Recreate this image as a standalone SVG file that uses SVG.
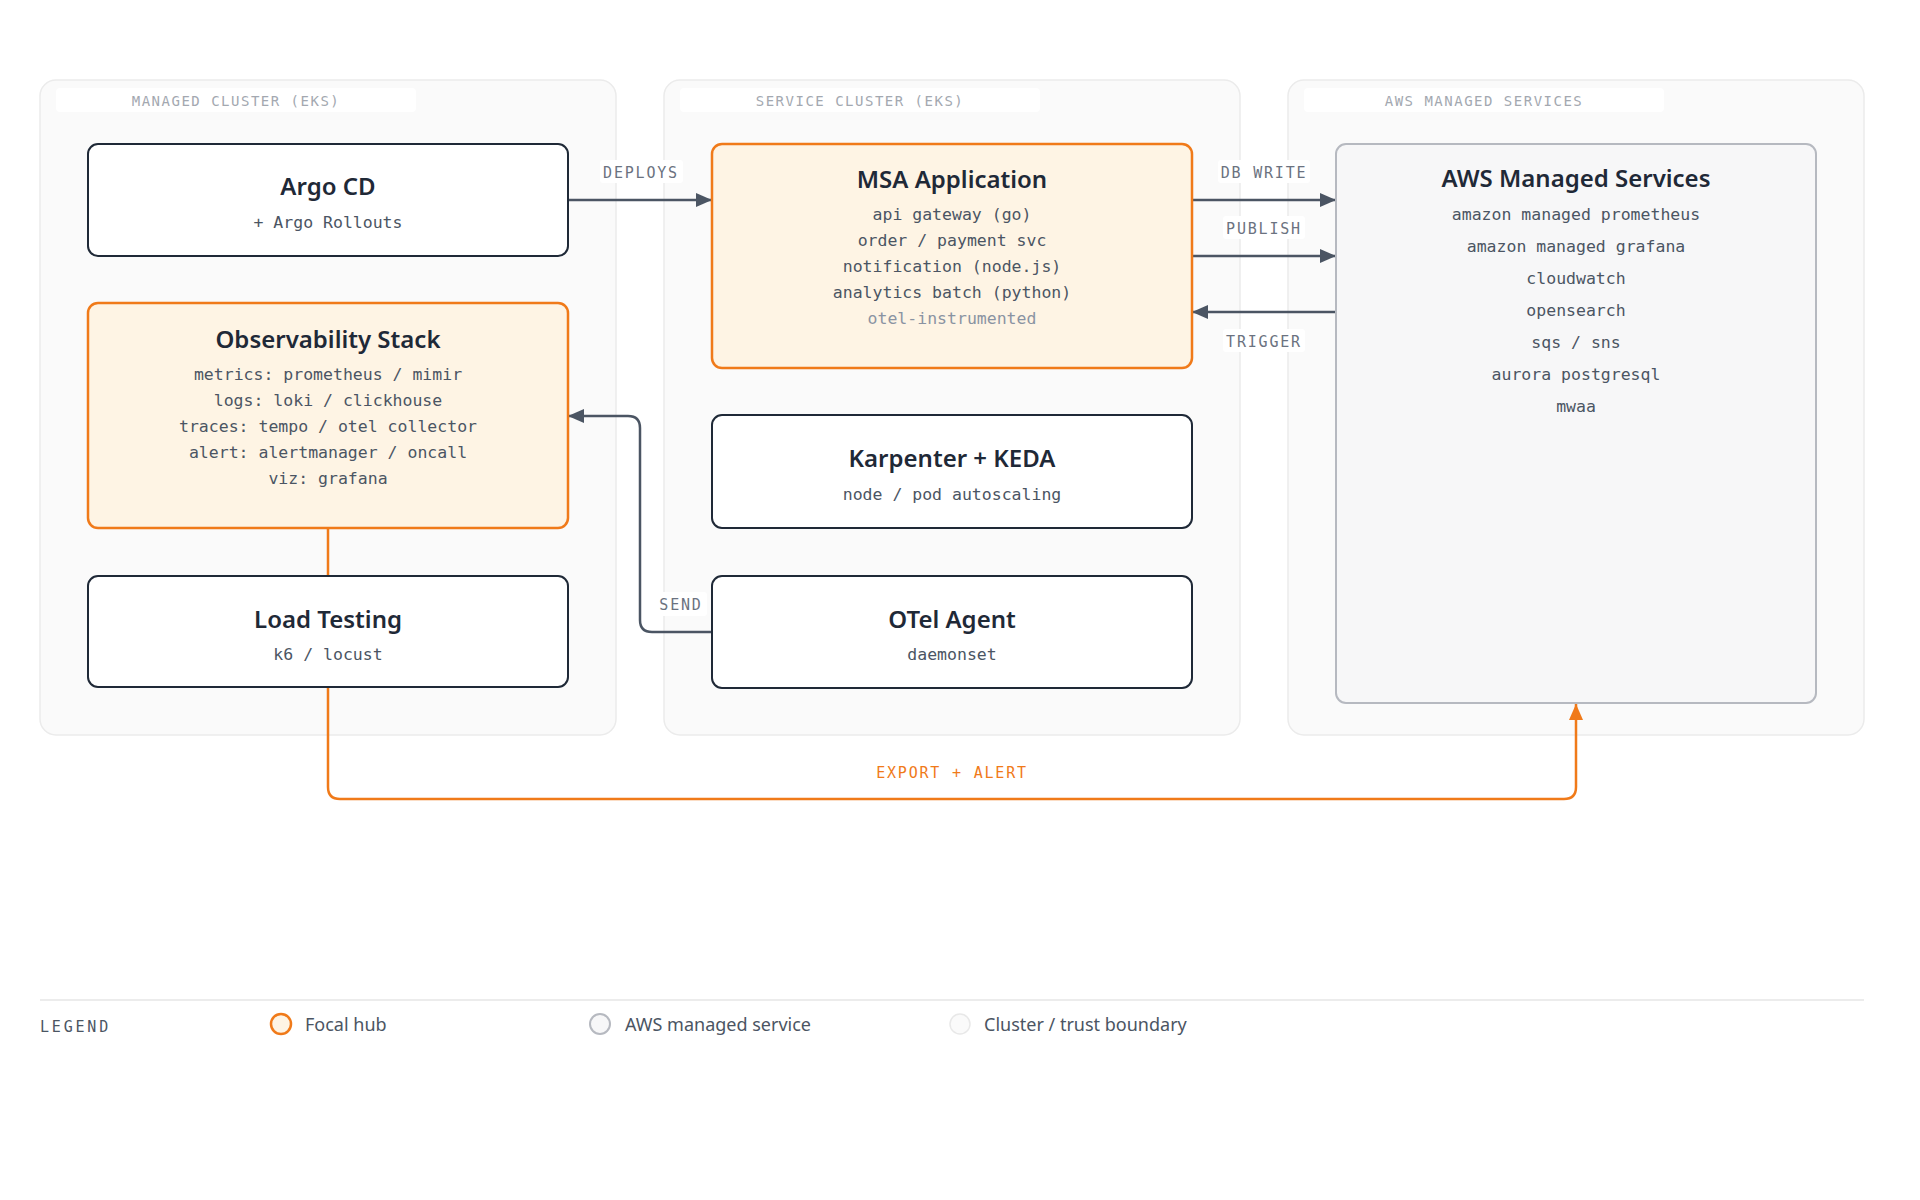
<svg xmlns="http://www.w3.org/2000/svg" width="1920" height="1200" viewBox="0 0 1920 1200">
  <defs>
    <style>
      .cluster { fill: #fafafa; stroke: #ebebeb; stroke-width: 1.5; }
      .clabel-bg { fill: #ffffff; }
      .clabel { font-family: "DejaVu Sans Mono", "Liberation Mono", monospace; font-size: 14px; letter-spacing: 1.5px; fill: #a3a8b0; text-anchor: middle; }
      .node { fill: #ffffff; stroke: #1f2937; stroke-width: 2; }
      .focal { fill: #fef4e4; stroke: #f07a19; stroke-width: 2.5; }
      .aws { fill: #f7f7f8; stroke: #b6b9c0; stroke-width: 2; }
      .title { font-family: "Noto Sans", "Open Sans", sans-serif; font-weight: 600; font-size: 24px; fill: #1f2937; text-anchor: middle; }
      .sub { font-family: "DejaVu Sans Mono", "Liberation Mono", monospace; font-size: 16.5px; fill: #4b5563; text-anchor: middle; }
      .muted { fill: #8a93a2; }
      .edge { fill: none; stroke: #4b5563; stroke-width: 2.5; }
      .edge-o { fill: none; stroke: #f07a19; stroke-width: 2.5; }
      .elabel-bg { fill: #ffffff; }
      .elabel { font-family: "DejaVu Sans Mono", "Liberation Mono", monospace; font-size: 15px; letter-spacing: 1.8px; fill: #6b7280; text-anchor: middle; }
      .elabel-o { fill: #f07a19; }
      .legend-title { font-family: "DejaVu Sans Mono", "Liberation Mono", monospace; font-size: 15px; letter-spacing: 2.8px; fill: #4b5563; }
      .legend-text { font-family: "Noto Sans", "Open Sans", sans-serif; font-size: 18px; fill: #4b5563; }
    </style>
    <marker id="arr" markerUnits="userSpaceOnUse" markerWidth="16" markerHeight="14" refX="16" refY="7" orient="auto">
      <path d="M0,0 L16,7 L0,14 Z" fill="#4b5563"/>
    </marker>
    <marker id="arr-o" markerUnits="userSpaceOnUse" markerWidth="16" markerHeight="14" refX="16" refY="7" orient="auto">
      <path d="M0,0 L16,7 L0,14 Z" fill="#f07a19"/>
    </marker>
  </defs>

  <rect x="0" y="0" width="1920" height="1200" fill="#ffffff"/>

  <!-- Clusters -->
  <g id="cluster-managed">
    <rect class="cluster" x="40" y="80" width="576" height="655" rx="16"/>
    <rect class="clabel-bg" x="56" y="88" width="360" height="24" rx="4"/>
    <text class="clabel" x="236" y="106">MANAGED CLUSTER (EKS)</text>
  </g>
  <g id="cluster-service">
    <rect class="cluster" x="664" y="80" width="576" height="655" rx="16"/>
    <rect class="clabel-bg" x="680" y="88" width="360" height="24" rx="4"/>
    <text class="clabel" x="860" y="106">SERVICE CLUSTER (EKS)</text>
  </g>
  <g id="cluster-aws">
    <rect class="cluster" x="1288" y="80" width="576" height="655" rx="16"/>
    <rect class="clabel-bg" x="1304" y="88" width="360" height="24" rx="4"/>
    <text class="clabel" x="1484" y="106">AWS MANAGED SERVICES</text>
  </g>

  <!-- Connectors -->
  <g id="connectors">
    <path class="edge-o" d="M328,528 V787 Q328,799 340,799 H1564 Q1576,799 1576,787 V704" marker-end="url(#arr-o)"/>
    <path class="edge" d="M568,200 H712" marker-end="url(#arr)"/>
    <path class="edge" d="M1192,200 H1336" marker-end="url(#arr)"/>
    <path class="edge" d="M1192,256 H1336" marker-end="url(#arr)"/>
    <path class="edge" d="M1336,312 H1192" marker-end="url(#arr)"/>
    <path class="edge" d="M712,632 H652 Q640,632 640,620 V428 Q640,416 628,416 H568" marker-end="url(#arr)"/>

    <rect class="elabel-bg" x="600" y="160" width="83" height="23" rx="3"/>
    <text class="elabel" x="641" y="178">DEPLOYS</text>
    <rect class="elabel-bg" x="1218" y="160" width="92" height="23" rx="3"/>
    <text class="elabel" x="1264" y="178">DB WRITE</text>
    <rect class="elabel-bg" x="1223" y="216" width="82" height="23" rx="3"/>
    <text class="elabel" x="1264" y="234">PUBLISH</text>
    <rect class="elabel-bg" x="1223" y="329" width="82" height="23" rx="3"/>
    <text class="elabel" x="1264" y="347">TRIGGER</text>
    <rect class="elabel-bg" x="653" y="592" width="54" height="24" rx="3"/>
    <text class="elabel" x="681" y="610">SEND</text>
    <text class="elabel elabel-o" x="952" y="778">EXPORT + ALERT</text>
  </g>

  <!-- Nodes -->
  <g id="node-argocd">
    <rect class="node" x="88" y="144" width="480" height="112" rx="10"/>
    <text class="title" x="328" y="195">Argo CD</text>
    <text class="sub" x="328" y="228">+ Argo Rollouts</text>
  </g>

  <g id="node-observability">
    <rect class="focal" x="88" y="303" width="480" height="225" rx="10"/>
    <text class="title" x="328" y="348">Observability Stack</text>
    <text class="sub" x="328" y="380">metrics: prometheus / mimir</text>
    <text class="sub" x="328" y="406">logs: loki / clickhouse</text>
    <text class="sub" x="328" y="432">traces: tempo / otel collector</text>
    <text class="sub" x="328" y="458">alert: alertmanager / oncall</text>
    <text class="sub" x="328" y="484">viz: grafana</text>
  </g>

  <g id="node-loadtesting">
    <rect class="node" x="88" y="576" width="480" height="111" rx="10"/>
    <text class="title" x="328" y="628">Load Testing</text>
    <text class="sub" x="328" y="660">k6 / locust</text>
  </g>

  <g id="node-msa">
    <rect class="focal" x="712" y="144" width="480" height="224" rx="10"/>
    <text class="title" x="952" y="188">MSA Application</text>
    <text class="sub" x="952" y="220">api gateway (go)</text>
    <text class="sub" x="952" y="246">order / payment svc</text>
    <text class="sub" x="952" y="272">notification (node.js)</text>
    <text class="sub" x="952" y="298">analytics batch (python)</text>
    <text class="sub muted" x="952" y="324">otel-instrumented</text>
  </g>

  <g id="node-karpenter">
    <rect class="node" x="712" y="415" width="480" height="113" rx="10"/>
    <text class="title" x="952" y="467">Karpenter + KEDA</text>
    <text class="sub" x="952" y="500">node / pod autoscaling</text>
  </g>

  <g id="node-otel">
    <rect class="node" x="712" y="576" width="480" height="112" rx="10"/>
    <text class="title" x="952" y="628">OTel Agent</text>
    <text class="sub" x="952" y="660">daemonset</text>
  </g>

  <g id="node-aws">
    <rect class="aws" x="1336" y="144" width="480" height="559" rx="10"/>
    <text class="title" x="1576" y="187">AWS Managed Services</text>
    <text class="sub" x="1576" y="220">amazon managed prometheus</text>
    <text class="sub" x="1576" y="252">amazon managed grafana</text>
    <text class="sub" x="1576" y="284">cloudwatch</text>
    <text class="sub" x="1576" y="316">opensearch</text>
    <text class="sub" x="1576" y="348">sqs / sns</text>
    <text class="sub" x="1576" y="380">aurora postgresql</text>
    <text class="sub" x="1576" y="412">mwaa</text>
  </g>

  <!-- Legend -->
  <g id="legend">
    <line x1="40" y1="1000" x2="1864" y2="1000" stroke="#ececec" stroke-width="2"/>
    <text class="legend-title" x="40" y="1032">LEGEND</text>
    <circle cx="281" cy="1024" r="10" fill="#fef4e4" stroke="#f07a19" stroke-width="2.5"/>
    <text class="legend-text" x="305" y="1031">Focal hub</text>
    <circle cx="600" cy="1024" r="10" fill="#f7f7f8" stroke="#b6b9c0" stroke-width="2"/>
    <text class="legend-text" x="625" y="1031">AWS managed service</text>
    <circle cx="960" cy="1024" r="10" fill="#fafafa" stroke="#e8e8e8" stroke-width="1.5"/>
    <text class="legend-text" x="984" y="1031">Cluster / trust boundary</text>
  </g>
</svg>
